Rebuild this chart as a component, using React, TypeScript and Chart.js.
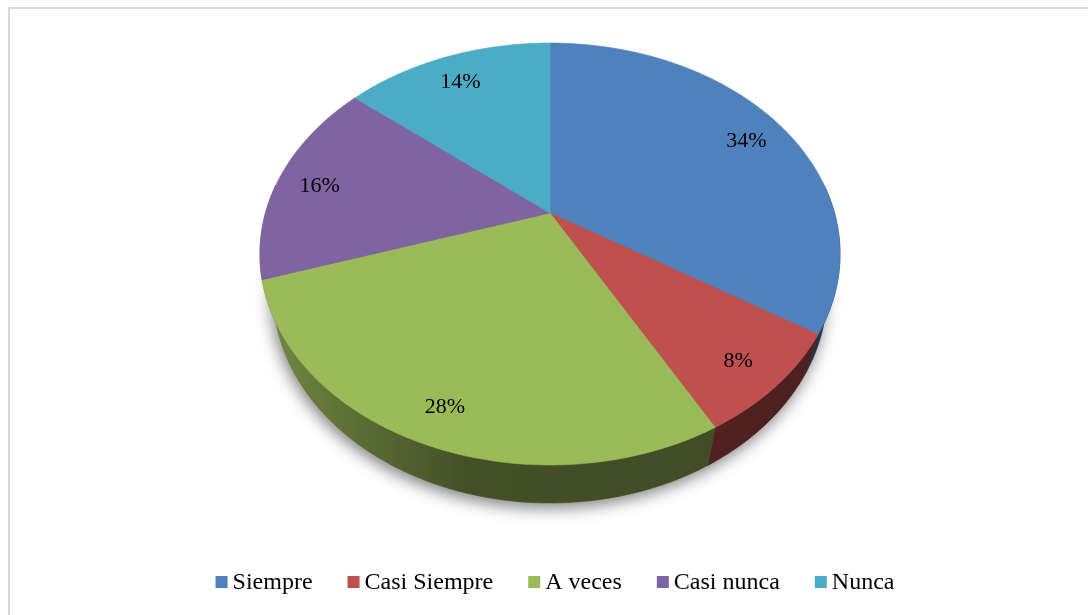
import React, { useEffect, useRef } from "react";
import { Chart, registerables } from "chart.js";

Chart.register(...registerables);

// ---- data ----
const categories = ["Siempre", "Casi Siempre", "A veces", "Casi nunca", "Nunca"];
const percentages = [34, 8, 28, 16, 14];
const sliceColors = ["#4F81BD", "#C0504D", "#9BBB59", "#8064A2", "#4BACC6"];

// ---- 3D projection layout (perspective tilted disc) ----
const GEOM = {
  cx: 550,
  cy: 213,
  rx: 284.5,
  ry: 203,
  k: 0.1943,
  depth: 38,
  shrink: 0.955,
  labelR: 0.85,
  labelDy: 5,
};

const LEGEND = { y: 582, box: 12, boxGap: 5, itemGap: 35, fontSize: 24, centerX: 555 };

const FONT_FAMILY = "'Liberation Serif', 'Times New Roman', serif";

function hexToRgb(hex: string) {
  const h = hex.replace("#", "");
  return [parseInt(h.slice(0, 2), 16), parseInt(h.slice(2, 4), 16), parseInt(h.slice(4, 6), 16)];
}
function shade(hex: string, f: number) {
  const [r, g, b] = hexToRgb(hex);
  return `rgb(${Math.round(r * f)},${Math.round(g * f)},${Math.round(b * f)})`;
}

function proj(r: number, a: number, bottom: boolean): [number, number] {
  const u = r * Math.cos(a);
  const v = r * Math.sin(a);
  const w = 1 - GEOM.k * v;
  let x = GEOM.cx + (GEOM.rx * u) / w;
  let y = GEOM.cy + (GEOM.ry * v) / w;
  if (bottom) {
    x = GEOM.cx + (x - GEOM.cx) * GEOM.shrink;
    y += GEOM.depth;
  }
  return [x, y];
}

const pie3d = {
  id: "pie3d",
  beforeDatasetsDraw(chart: any) {
    const ctx: CanvasRenderingContext2D = chart.ctx;
    const meta = chart.getDatasetMeta(0);
    const arcs = meta.data as any[];
    const step = Math.PI / 360;

    ctx.save();
    // soft shadow below the pie
    ctx.save();
    ctx.shadowColor = "rgba(0,0,0,0.5)";
    ctx.shadowBlur = 16;
    ctx.shadowOffsetX = -2;
    ctx.shadowOffsetY = 5;
    ctx.fillStyle = "#777";
    ctx.beginPath();
    for (let i = 0; i <= 720; i++) {
      const [x, y] = proj(1, i * step, true);
      if (i === 0) ctx.moveTo(x, y);
      else ctx.lineTo(x, y);
    }
    ctx.closePath();
    ctx.fill();
    ctx.restore();

    // side walls (front half)
    const lo = (-8 * Math.PI) / 180;
    const hi = (188 * Math.PI) / 180;
    arcs.forEach((arc, i) => {
      const a1 = Math.max(arc.startAngle, lo);
      const a2 = Math.min(arc.endAngle, hi);
      if (a1 >= a2) return;
      const col = sliceColors[i];
      const grad = ctx.createLinearGradient(GEOM.cx - GEOM.rx, 0, GEOM.cx + GEOM.rx, 0);
      grad.addColorStop(0, shade(col, 0.74));
      grad.addColorStop(0.12, shade(col, 0.62));
      grad.addColorStop(0.35, shade(col, 0.43));
      grad.addColorStop(1, shade(col, 0.4));
      ctx.beginPath();
      const n = Math.max(2, Math.ceil((a2 - a1) / step));
      for (let j = 0; j <= n; j++) {
        const a = a1 + ((a2 - a1) * j) / n;
        const [x, y] = proj(1, a, false);
        if (j === 0) ctx.moveTo(x, y);
        else ctx.lineTo(x, y);
      }
      for (let j = n; j >= 0; j--) {
        const a = a1 + ((a2 - a1) * j) / n;
        const [x, y] = proj(1, a, true);
        ctx.lineTo(x, y);
      }
      ctx.closePath();
      ctx.fillStyle = grad;
      ctx.strokeStyle = grad;
      ctx.lineWidth = 0.6;
      ctx.fill();
      ctx.stroke();
    });

    // top face
    arcs.forEach((arc, i) => {
      const s = arc.startAngle;
      const e = arc.endAngle;
      const n = Math.max(2, Math.ceil((e - s) / step));
      ctx.beginPath();
      const [cx0, cy0] = proj(0, 0, false);
      ctx.moveTo(cx0, cy0);
      for (let j = 0; j <= n; j++) {
        const a = s + ((e - s) * j) / n;
        const [x, y] = proj(1, a, false);
        ctx.lineTo(x, y);
      }
      ctx.closePath();
      ctx.fillStyle = sliceColors[i];
      ctx.strokeStyle = sliceColors[i];
      ctx.lineWidth = 0.6;
      ctx.fill();
      ctx.stroke();
    });

    // percentage labels
    ctx.fillStyle = "#000";
    ctx.font = `22px ${FONT_FAMILY}`;
    ctx.textAlign = "center";
    ctx.textBaseline = "middle";
    arcs.forEach((arc, i) => {
      const mid = (arc.startAngle + arc.endAngle) / 2;
      const [x, y] = proj(GEOM.labelR, mid, false);
      ctx.fillText(`${percentages[i]}%`, x, y + GEOM.labelDy);
    });
    ctx.restore();
    return false;
  },
  afterDraw(chart: any) {
    const ctx: CanvasRenderingContext2D = chart.ctx;
    ctx.save();
    ctx.font = `${LEGEND.fontSize}px ${FONT_FAMILY}`;
    ctx.textBaseline = "middle";
    ctx.textAlign = "left";
    const widths = categories.map((c) => LEGEND.box + LEGEND.boxGap + ctx.measureText(c).width);
    const total = widths.reduce((a, b) => a + b, 0) + LEGEND.itemGap * (categories.length - 1);
    let x = LEGEND.centerX - total / 2;
    categories.forEach((c, i) => {
      ctx.fillStyle = sliceColors[i];
      ctx.fillRect(x, LEGEND.y - LEGEND.box / 2, LEGEND.box, LEGEND.box);
      ctx.fillStyle = "#000";
      ctx.fillText(c, x + LEGEND.box + LEGEND.boxGap, LEGEND.y + 1);
      x += widths[i] + LEGEND.itemGap;
    });
    ctx.restore();
  },
};

export default function App() {
  const canvasRef = useRef<HTMLCanvasElement | null>(null);

  useEffect(() => {
    if (!canvasRef.current) return;
    const chart = new Chart(canvasRef.current, {
      type: "pie",
      data: {
        labels: categories,
        datasets: [
          {
            data: percentages,
            backgroundColor: sliceColors,
            borderWidth: 0,
          },
        ],
      },
      options: {
        responsive: false,
        animation: false,
        events: [],
        layout: { padding: { bottom: 60 } },
        plugins: {
          tooltip: { enabled: false },
          legend: { display: false },
        },
      },
      plugins: [pie3d],
    });
    return () => chart.destroy();
  }, []);

  return (
    <div
      style={{
        position: "fixed",
        left: 0,
        top: 0,
        width: 1088,
        height: 615,
        overflow: "hidden",
        background: "#fff",
      }}
    >
      <div
        style={{
          position: "absolute",
          left: 8,
          top: 7,
          width: 1200,
          height: 800,
          border: "2px solid #d9d9d9",
          boxSizing: "border-box",
        }}
      />
      <canvas
        ref={canvasRef}
        width={1088}
        height={615}
        style={{ position: "absolute", left: 0, top: 0 }}
      />
    </div>
  );
}
